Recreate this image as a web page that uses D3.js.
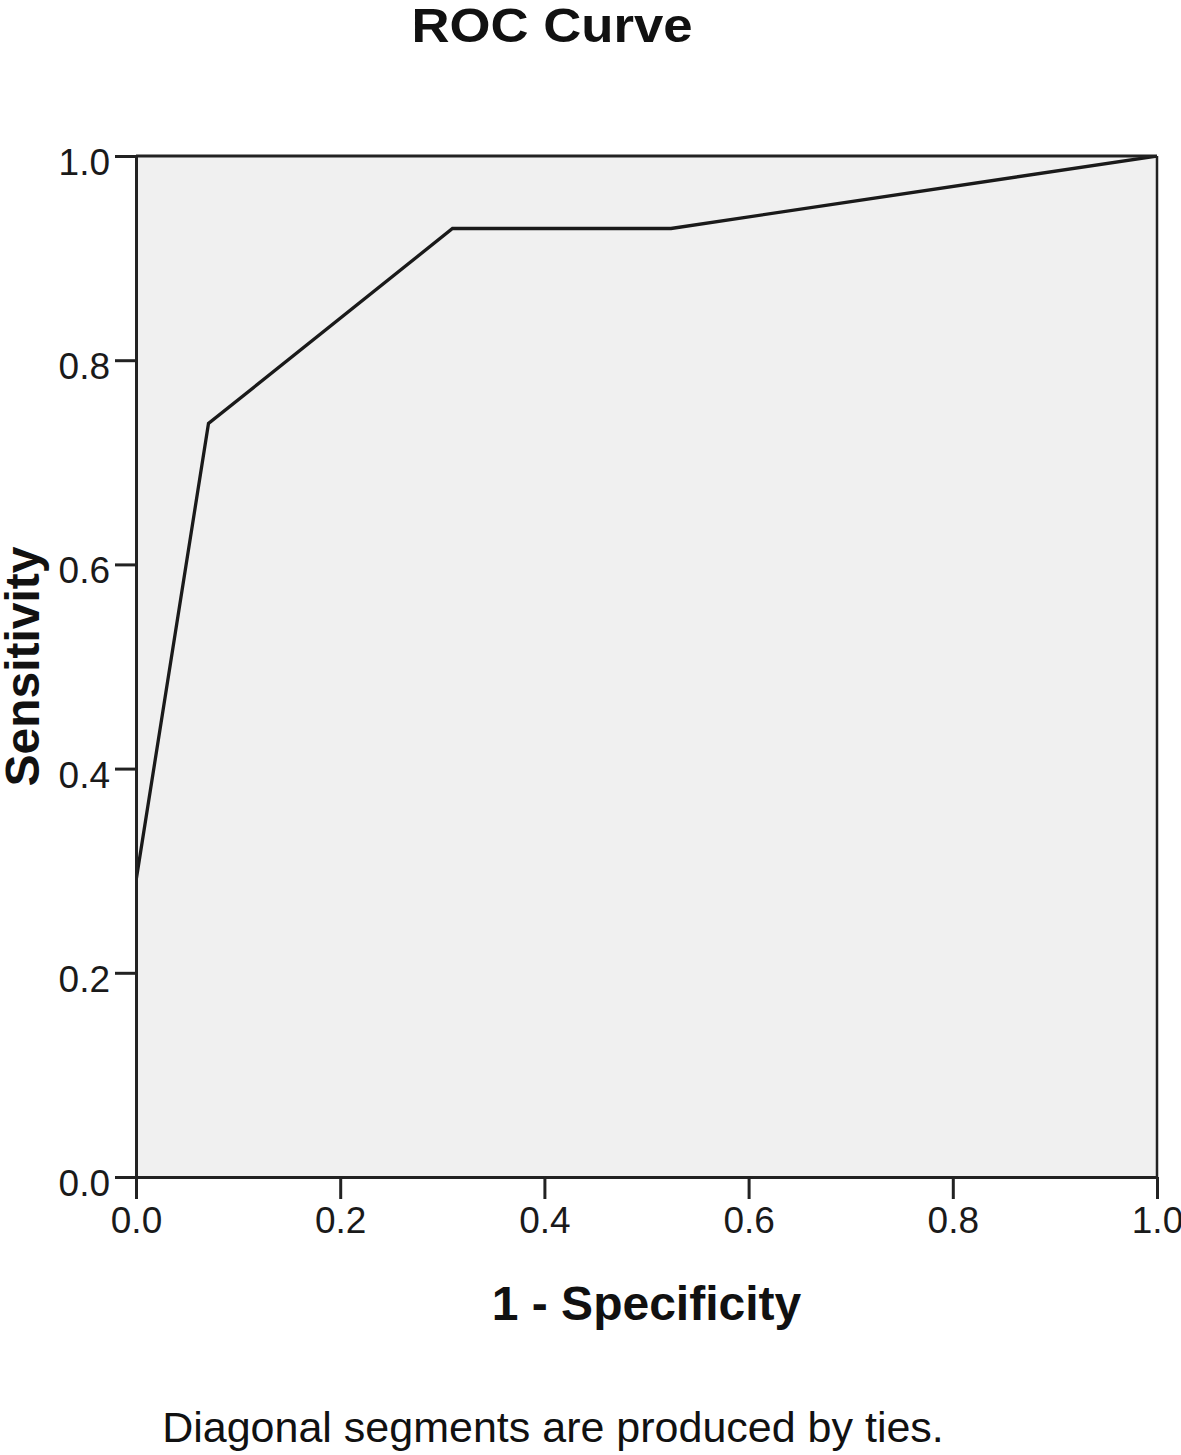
<!DOCTYPE html>
<html>
<head>
<meta charset="utf-8">
<script src="https://cdn.jsdelivr.net/npm/d3@7"></script>
<style>
  body { margin: 0; background: #fff; }
  svg { display: block; font-family: "Liberation Sans", Arial, sans-serif; }
</style>
</head>
<body>
<div id="chart"></div>
<script>
// ROC points
const fpr = [0, 0, 0.071, 0.31, 0.524, 1];
const tpr = [0, 0.29, 0.738, 0.929, 0.929, 1];
const tickValues = [0, 0.2, 0.4, 0.6, 0.8, 1.0];

const width = 1181, height = 1455;
const margin = {top: 156, right: 24, bottom: 278, left: 136};

const svg = d3.select("#chart")
    .append("svg")
    .attr("width", width)
    .attr("height", height);

const x = d3.scaleLinear().domain([0, 1]).range([margin.left, width - margin.right]);
const y = d3.scaleLinear().domain([0, 1]).range([height - margin.bottom, margin.top]);

// plot background
svg.append("rect")
    .attr("x", x(0)).attr("y", y(1))
    .attr("width", x(1) - x(0)).attr("height", y(0) - y(1))
    .attr("fill", "#f0f0f0");

svg.append("clipPath").attr("id", "clip")
  .append("rect")
    .attr("x", x(0)).attr("y", y(1))
    .attr("width", x(1) - x(0)).attr("height", y(0) - y(1));

// ROC line
const pts = fpr.map((v, i) => [v, tpr[i]]);
svg.append("path")
    .datum(pts)
    .attr("clip-path", "url(#clip)")
    .attr("fill", "none")
    .attr("stroke", "#1a1a1a")
    .attr("stroke-width", 3.3)
    .attr("stroke-linejoin", "miter")
    .attr("d", d3.line().x(d => x(d[0])).y(d => y(d[1])));

// frame (top and right)
svg.append("line")
    .attr("x1", x(0)).attr("x2", x(1))
    .attr("y1", y(1)).attr("y2", y(1))
    .attr("stroke", "#222").attr("stroke-width", 3);
svg.append("line")
    .attr("x1", x(1)).attr("x2", x(1))
    .attr("y1", y(1)).attr("y2", y(0))
    .attr("stroke", "#222").attr("stroke-width", 2.5);

// Axes
const xAxis = svg.append("g")
    .attr("transform", `translate(0, ${y(0)})`)
    .call(d3.axisBottom(x).tickValues(tickValues).tickFormat(d3.format(".1f"))
        .tickSizeOuter(0).tickSizeInner(22).tickPadding(8));

const yAxis = svg.append("g")
    .attr("transform", `translate(${x(0)}, 0)`)
    .call(d3.axisLeft(y).tickValues(tickValues).tickFormat(d3.format(".1f"))
        .tickSizeOuter(0).tickSizeInner(21).tickPadding(5));

[xAxis, yAxis].forEach(g => {
    g.select(".domain").attr("stroke", "#222").attr("stroke-width", 3);
    g.selectAll(".tick line").attr("stroke", "#222").attr("stroke-width", 3);
    g.selectAll(".tick text")
        .attr("fill", "#1a1a1a")
        .attr("font-size", "37px")
        .attr("font-family", "'Liberation Sans', Arial, sans-serif");
});
yAxis.selectAll(".tick text").attr("dy", "0.5em");

// Title
svg.append("text")
    .attr("x", 552)
    .attr("y", 42)
    .attr("text-anchor", "middle")
    .attr("font-size", "48px")
    .attr("font-weight", "bold")
    .attr("fill", "#111")
    .attr("textLength", 281)
    .attr("lengthAdjust", "spacingAndGlyphs")
    .text("ROC Curve");

// Axis labels
svg.append("text")
    .attr("x", (x(0) + x(1)) / 2)
    .attr("y", 1320)
    .attr("text-anchor", "middle")
    .attr("font-size", "48px")
    .attr("font-weight", "bold")
    .attr("fill", "#111")
    .text("1 - Specificity");

svg.append("text")
    .attr("transform", "rotate(-90)")
    .attr("x", -(y(0) + y(1)) / 2)
    .attr("y", 39)
    .attr("text-anchor", "middle")
    .attr("font-size", "48px")
    .attr("font-weight", "bold")
    .attr("fill", "#111")
    .text("Sensitivity");

// Footnote
svg.append("text")
    .attr("x", 553)
    .attr("y", 1442)
    .attr("text-anchor", "middle")
    .attr("font-size", "43px")
    .attr("fill", "#111")
    .text("Diagonal segments are produced by ties.");
</script>
</body>
</html>
